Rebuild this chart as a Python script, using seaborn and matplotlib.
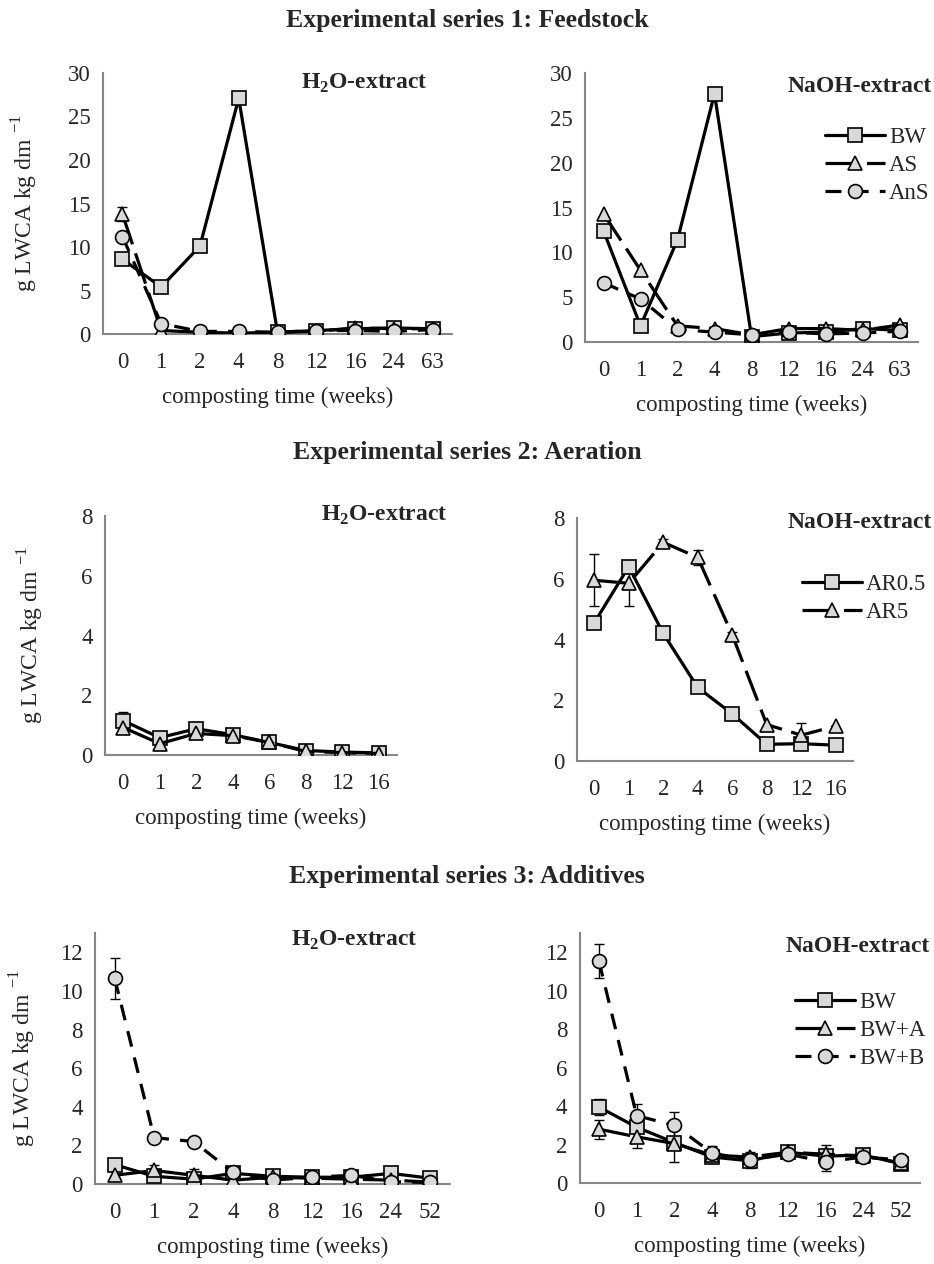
import numpy as np
import pandas as pd
import matplotlib
matplotlib.use("Agg")
import matplotlib.pyplot as plt
import seaborn as sns

sns.set_theme(style="white")
plt.rcParams["font.family"] = ["Liberation Serif", "DejaVu Serif"]
plt.rcParams["mathtext.fontset"] = "custom"
plt.rcParams["mathtext.rm"] = "Liberation Serif"
plt.rcParams["mathtext.bf"] = "Liberation Serif:bold"

# ---------------- data ----------------
weeks_s1 = ["0", "1", "2", "4", "8", "12", "16", "24", "63"]
s1_h2o_bw = [8.6, 5.4, 10.1, 27.1, 0.2, 0.4, 0.6, 0.7, 0.6]
s1_h2o_as = [13.8, 0.4, 0.2, 0.1, 0.2, 0.3, 0.7, 0.6, 0.6]
s1_h2o_ans = [11.2, 1.2, 0.3, 0.3, 0.2, 0.4, 0.4, 0.3, 0.5]
s1_h2o_as_err = [0.8, 0, 0, 0, 0, 0, 0, 0, 0]
s1_naoh_bw = [12.4, 1.8, 11.4, 27.7, 0.6, 1.0, 1.1, 1.5, 1.3]
s1_naoh_as = [14.3, 8.0, 1.8, 1.5, 0.8, 1.5, 1.5, 1.3, 1.9]
s1_naoh_ans = [6.6, 4.8, 1.4, 1.1, 0.8, 1.1, 0.9, 1.0, 1.2]

weeks_s2 = ["0", "1", "2", "4", "6", "8", "12", "16"]
s2_h2o_ar05 = [1.15, 0.58, 0.88, 0.68, 0.42, 0.15, 0.10, 0.07]
s2_h2o_ar5 = [0.92, 0.38, 0.72, 0.65, 0.42, 0.12, 0.08, 0.05]
s2_h2o_ar05_err = [0.3, 0, 0, 0, 0, 0, 0, 0]
s2_naoh_ar05 = [4.55, 6.4, 4.2, 2.42, 1.55, 0.55, 0.57, 0.52]
s2_naoh_ar5 = [5.95, 5.85, 7.2, 6.7, 4.15, 1.2, 0.85, 1.15]
s2_naoh_ar5_err = [0.85, 0.75, 0.1, 0.25, 0.1, 0, 0.4, 0]

weeks_s3 = ["0", "1", "2", "4", "8", "12", "16", "24", "52"]
s3_h2o_bw = [1.0, 0.4, 0.25, 0.55, 0.4, 0.35, 0.35, 0.55, 0.3]
s3_h2o_bwa = [0.45, 0.7, 0.45, 0.2, 0.35, 0.3, 0.25, 0.2, 0.1]
s3_h2o_bwb = [10.65, 2.4, 2.2, 0.6, 0.2, 0.35, 0.45, 0.12, 0.08]
s3_h2o_bwa_err = [0, 0.3, 0.35, 0, 0, 0, 0, 0, 0]
s3_h2o_bwb_err = [1.05, 0, 0, 0, 0, 0, 0, 0, 0]
s3_naoh_bw = [3.95, 2.9, 2.1, 1.35, 1.15, 1.6, 1.4, 1.45, 1.0]
s3_naoh_bwa = [2.8, 2.4, 2.05, 1.45, 1.35, 1.6, 1.5, 1.4, 1.05]
s3_naoh_bwb = [11.55, 3.5, 3.0, 1.55, 1.2, 1.5, 1.1, 1.35, 1.2]
s3_naoh_bw_err = [0.4, 0, 0, 0, 0, 0, 0, 0, 0]
s3_naoh_bwa_err = [0.5, 0.6, 0.95, 0, 0, 0, 0.5, 0, 0]
s3_naoh_bwb_err = [0.9, 0.6, 0.7, 0.4, 0.4, 0, 0.5, 0, 0]

# ---------------- styles ----------------
FILL = "#d9d9d9"
TXTC = "#262626"
SOLID = "-"
LONG = (0, (10, 3))
SHORT = (0, (5, 3.5))
ST_SQ = dict(ls=SOLID, m="s", ms=9.5)
ST_TRI_L = dict(ls=LONG, m="^", ms=10.5)
ST_CIR_S = dict(ls=SHORT, m="o", ms=10)
FS = 16.5

W, H = 934, 1264
fig = plt.figure(figsize=(W / 100, H / 100), dpi=100)


def add_ax(l, r, t, b):
    return fig.add_axes([l / W, 1 - b / H, (r - l) / W, (b - t) / H])


def draw(ax, cats, series, ymax, yticks):
    pos = np.arange(len(cats))
    for name, vals, err, st in series:
        if err is not None:
            e = np.asarray(err, float)
            idx = np.nonzero(e)[0]
            ax.errorbar(pos[idx], np.asarray(vals)[idx], yerr=e[idx], fmt="none",
                        ecolor="black", elinewidth=1.0, capsize=3.5, capthick=1.0,
                        zorder=2)
        df = pd.DataFrame({"pos": pos, "val": vals})
        sns.lineplot(data=df, x="pos", y="val", ax=ax, color="black", lw=2.3,
                     linestyle=st["ls"], marker=st["m"], markersize=st["ms"],
                     markerfacecolor=FILL, markeredgecolor="black",
                     markeredgewidth=1.2, label=name, legend=False,
                     errorbar=None, zorder=3)
    ax.set_xlim(-0.5, len(cats) - 0.5)
    ax.set_ylim(0, ymax)
    ax.set_xticks(pos)
    ax.set_xticklabels(cats)
    ax.set_yticks(yticks)
    ax.set_xlabel("composting time (weeks)", fontsize=FS, color=TXTC, labelpad=10)
    ax.set_ylabel("")
    for s in ["top", "right"]:
        ax.spines[s].set_visible(False)
    for s in ["left", "bottom"]:
        ax.spines[s].set_color("#868686")
        ax.spines[s].set_linewidth(1.5)
    ax.tick_params(axis="y", length=5, width=1.2, color="#868686", direction="out",
                   labelsize=FS, labelcolor=TXTC, pad=4)
    ax.tick_params(axis="x", length=0, labelsize=FS, labelcolor=TXTC, pad=13)
    ax.grid(False)


def ylab(ax, xpix, lpix):
    ax.set_ylabel("g LWCA kg dm $^{\\mathrm{-1}}$", fontsize=17, color=TXTC)
    r = ax.get_position()
    ax.yaxis.set_label_coords((xpix - lpix) / (r.width * W), 0.5)


def leg(ax, xpix, ypix):
    hs = [l for l in ax.get_lines() if not l.get_label().startswith("_")]
    ax.legend(handles=hs, labels=[h.get_label() for h in hs], loc="upper left",
              bbox_to_anchor=(xpix / W, 1 - ypix / H), bbox_transform=fig.transFigure,
              frameon=False, fontsize=FS, handlelength=2.6, handletextpad=0.2,
              labelspacing=0.3, borderpad=0, borderaxespad=0,
              labelcolor=TXTC)


def ftext(x, y, s, **kw):
    fig.text(x / W, 1 - y / H, s, **kw)


H2O = "H$_{\\mathbf{2}}$O-extract"
NAOH = "NaOH-extract"
TXT = dict(fontsize=17, fontweight="bold", color=TXTC, va="center")
TTL = dict(fontsize=18.5, fontweight="bold", color=TXTC, ha="center", va="center")

# ---------- series 1 ----------
ftext(467, 20, "Experimental series 1: Feedstock", **TTL)
a1 = add_ax(103, 452, 73, 334)
draw(a1, weeks_s1, [("BW", s1_h2o_bw, None, ST_SQ),
                    ("AS", s1_h2o_as, s1_h2o_as_err, ST_TRI_L),
                    ("AnS", s1_h2o_ans, None, ST_CIR_S)], 30, [0, 5, 10, 15, 20, 25, 30])
ylab(a1, 40, 103)
ftext(428, 83, H2O, ha="right", **TXT)

a2 = add_ax(585, 918, 73, 342)
draw(a2, weeks_s1, [("BW", s1_naoh_bw, None, ST_SQ),
                    ("AS", s1_naoh_as, None, ST_TRI_L),
                    ("AnS", s1_naoh_ans, None, ST_CIR_S)], 30, [0, 5, 10, 15, 20, 25, 30])
ftext(932, 87, NAOH, ha="right", **TXT)
leg(a2, 825, 127)

# ---------- series 2 ----------
ftext(467, 452, "Experimental series 2: Aeration", **TTL)
a3 = add_ax(105, 397, 516, 755)
draw(a3, weeks_s2, [("AR0.5", s2_h2o_ar05, s2_h2o_ar05_err, ST_SQ),
                    ("AR5", s2_h2o_ar5, None, ST_TRI_L)], 8, [0, 2, 4, 6, 8])
ylab(a3, 46, 105)
ftext(448, 515, H2O, ha="right", **TXT)

a4 = add_ax(577, 853, 518, 761)
draw(a4, weeks_s2, [("AR0.5", s2_naoh_ar05, None, ST_SQ),
                    ("AR5", s2_naoh_ar5, s2_naoh_ar5_err, ST_TRI_L)], 8, [0, 2, 4, 6, 8])
ftext(932, 523, NAOH, ha="right", **TXT)
leg(a4, 802, 574)

# ---------- series 3 ----------
ftext(467, 877, "Experimental series 3: Additives", **TTL)
a5 = add_ax(95, 450, 933, 1184)
draw(a5, weeks_s3, [("BW", s3_h2o_bw, None, ST_SQ),
                    ("BW+A", s3_h2o_bwa, s3_h2o_bwa_err, ST_TRI_L),
                    ("BW+B", s3_h2o_bwb, s3_h2o_bwb_err, ST_CIR_S)], 13,
     [0, 2, 4, 6, 8, 10, 12])
ylab(a5, 38, 95)
ftext(418, 940, H2O, ha="right", **TXT)

a6 = add_ax(580, 920, 933, 1183)
draw(a6, weeks_s3, [("BW", s3_naoh_bw, s3_naoh_bw_err, ST_SQ),
                    ("BW+A", s3_naoh_bwa, s3_naoh_bwa_err, ST_TRI_L),
                    ("BW+B", s3_naoh_bwb, s3_naoh_bwb_err, ST_CIR_S)], 13,
     [0, 2, 4, 6, 8, 10, 12])
ftext(930, 947, NAOH, ha="right", **TXT)
leg(a6, 795, 992)

fig.savefig("out.png", dpi=100, facecolor="white")
